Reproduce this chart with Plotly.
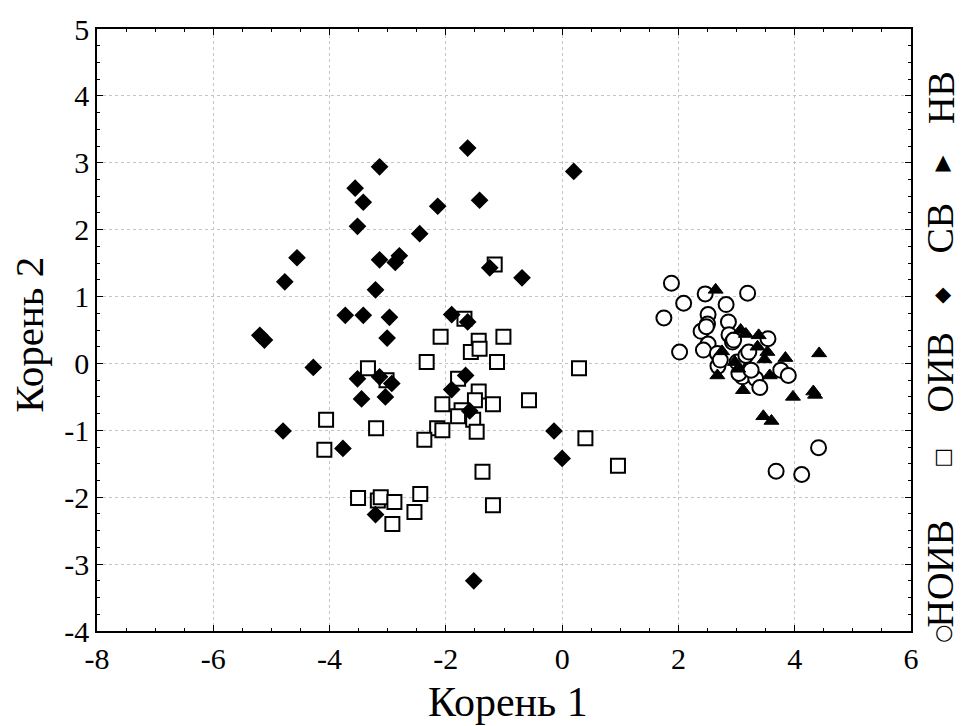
import plotly.graph_objects as go

# ---- data ----
noiv_x = [1.88, 2.09, 1.75, 2.02, 2.46, 3.19, 2.82, 2.51, 2.50, 2.86, 2.39, 2.51, 2.43, 2.87, 2.93,
          2.68, 3.01, 3.16, 3.21, 3.54, 3.10, 3.33, 3.40, 3.76, 3.89, 4.41, 3.68, 4.12, 2.67, 3.04,
          2.48, 2.95, 2.72, 3.25]
noiv_y = [1.20, 0.90, 0.68, 0.17, 1.04, 1.05, 0.88, 0.73, 0.59, 0.62, 0.48, 0.29, 0.20, 0.43, 0.32,
          -0.04, 0.02, 0.12, 0.17, 0.37, -0.20, -0.23, -0.36, -0.10, -0.18, -1.26, -1.61, -1.66, 0.15, -0.15,
          0.55, 0.35, 0.05, -0.10]

oiv_x = [-1.16, -1.68, -2.09, -1.435, -1.01, -1.57, -1.42, -2.33, -1.12, -3.34, -3.02, -1.79, -1.435,
         0.29, -1.50, -2.06, -1.19, -0.57, -1.73, -1.79, -1.53, -2.15, -2.06, -1.47, -2.37, -4.06,
         -3.20, -4.09, 0.40, -1.37, -1.19, -3.51, -3.17, -3.12, -2.885, -2.44, -2.54, -2.92, 0.96]
oiv_y = [1.48, 0.67, 0.40, 0.34, 0.40, 0.17, 0.22, 0.02, 0.02, -0.07, -0.25, -0.23, -0.42,
         -0.07, -0.55, -0.61, -0.61, -0.55, -0.70, -0.79, -0.84, -0.97, -1.00, -1.02, -1.14, -0.84,
         -0.97, -1.29, -1.12, -1.62, -2.12, -2.01, -2.05, -2.00, -2.07, -1.95, -2.22, -2.40, -1.53]

sv_x = [-1.625, 0.20, -3.14, -3.56, -3.42, -2.14, -1.42, -3.52, -2.45, -4.56, -4.77, -3.14, -2.80,
        -2.87, -3.21, -1.245, -0.69, -3.73, -3.42, -2.97, -3.01, -1.90, -1.625, -5.20, -5.12, -4.28,
        -3.52, -3.14, -2.93, -1.66, -1.90, -3.45, -3.04, -1.59, -4.80, -3.77, -0.14, 0.00, -3.21, -1.52]
sv_y = [3.22, 2.87, 2.94, 2.62, 2.41, 2.35, 2.44, 2.05, 1.94, 1.58, 1.22, 1.55, 1.61,
        1.51, 1.10, 1.43, 1.28, 0.72, 0.72, 0.69, 0.38, 0.73, 0.62, 0.42, 0.35, -0.06,
        -0.23, -0.20, -0.30, -0.18, -0.39, -0.53, -0.50, -0.71, -1.01, -1.27, -1.01, -1.42, -2.26, -3.25]

nv_x = [2.64, 3.07, 3.16, 3.38, 3.36, 3.53, 3.84, 4.42, 2.75, 2.67, 2.97, 3.03, 3.48, 3.57,
        3.11, 3.97, 4.32, 4.35, 3.46, 3.60]
nv_y = [1.10, 0.50, 0.44, 0.42, 0.25, 0.17, 0.08, 0.15, 0.18, -0.18, 0.02, -0.08, 0.06, -0.18,
        -0.40, -0.50, -0.42, -0.47, -0.79, -0.86]

x_ticks = [-8, -6, -4, -2, 0, 2, 4, 6]
x_labels = ["-8", "-6", "-4", "-2", "0", "2", "4", "6"]
y_ticks = [-4, -3, -2, -1, 0, 1, 2, 3, 4, 5]
y_labels = ["-4", "-3", "-2", "-1", "0", "1", "2", "3", "4", "5"]

legend_names = ["НОИВ", "ОИВ", "СВ", "НВ"]
legend_glyphs = ["○", "□", "◆", "▲"]

FONT = "Liberation Serif"

fig = go.Figure()
fig.add_trace(go.Scatter(x=noiv_x, y=noiv_y, mode="markers", name=legend_names[0],
                         marker=dict(symbol="circle", size=15, color="white",
                                     line=dict(color="black", width=2))))
fig.add_trace(go.Scatter(x=oiv_x, y=oiv_y, mode="markers", name=legend_names[1],
                         marker=dict(symbol="square", size=14, color="white",
                                     line=dict(color="black", width=2))))
fig.add_trace(go.Scatter(x=sv_x, y=sv_y, mode="markers", name=legend_names[2],
                         marker=dict(symbol="diamond", size=12, color="black",
                                     line=dict(color="black", width=1.5))))
fig.add_trace(go.Scatter(x=nv_x, y=nv_y, mode="markers", name=legend_names[3],
                         marker=dict(symbol="triangle-up", size=13, color="black",
                                     line=dict(color="black", width=1))))

axis_common = dict(
    showgrid=True, gridcolor="#c4c4c4", griddash="dot", gridwidth=1,
    showline=True, linecolor="black", linewidth=1.5, mirror="allticks",
    ticks="inside", ticklen=6, tickcolor="black", tickwidth=1,
    zeroline=False, tickfont=dict(family=FONT, size=30, color="black"),
)

fig.update_xaxes(range=[-8, 6], tickmode="array", tickvals=x_ticks, ticktext=x_labels,
                 minor=dict(ticks="inside", ticklen=3, tickmode="linear", tick0=0, dtick=0.5,
                            tickcolor="black", showgrid=False),
                 **axis_common)
fig.update_yaxes(range=[-4, 5], tickmode="array", tickvals=y_ticks, ticktext=y_labels,
                 minor=dict(ticks="inside", ticklen=3, tickmode="linear", tick0=0, dtick=0.25,
                            tickcolor="black", showgrid=False),
                 **axis_common)

annotations = [
    dict(text="Корень 1", xref="paper", yref="paper", x=0.505, y=-0.118, showarrow=False,
         xanchor="center", yanchor="middle", font=dict(family=FONT, size=42, color="black")),
    dict(text="Корень 2", xref="paper", yref="paper", x=-0.083, y=0.493, showarrow=False,
         textangle=-90, xanchor="center", yanchor="middle",
         font=dict(family=FONT, size=41, color="black")),
]

# vertical legend on the right
name_pos = [0.096, 0.43, 0.669, 0.886]
glyph_pos = [-0.002, 0.291, 0.559, 0.779]
for name, yp in zip(legend_names, name_pos):
    annotations.append(dict(text=name, xref="paper", yref="paper", x=1.036, y=yp, showarrow=False,
                            textangle=-90, xanchor="center", yanchor="middle",
                            font=dict(family=FONT, size=38, color="black")))
for g, yp in zip(legend_glyphs, glyph_pos):
    annotations.append(dict(text=g, xref="paper", yref="paper", x=1.04, y=yp, showarrow=False,
                            xanchor="center", yanchor="middle",
                            font=dict(family="DejaVu Sans", size=21, color="black")))

fig.update_layout(
    width=961, height=726,
    margin=dict(l=97, r=50, t=26, b=95),
    paper_bgcolor="white", plot_bgcolor="white",
    showlegend=False,
    annotations=annotations,
)

fig.write_html("out.html")
